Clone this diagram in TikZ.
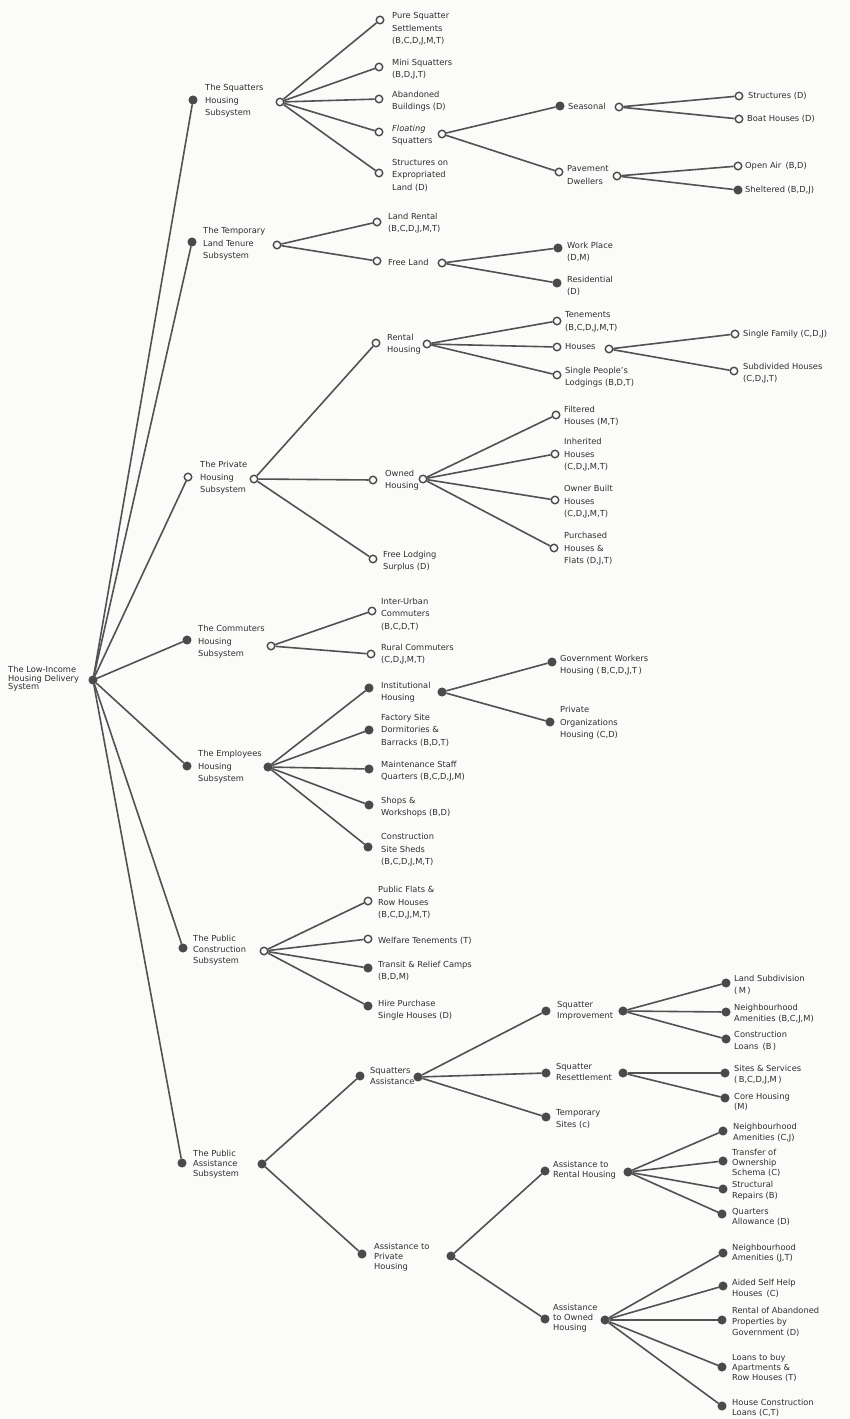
\documentclass[tikz,border=0pt]{standalone}
\usepackage{fontspec}
\setmainfont{DejaVu Sans}
\definecolor{linec}{HTML}{525252}
\definecolor{dotc}{HTML}{4A4A4A}
\definecolor{txtc}{HTML}{2E2E2E}
\definecolor{bgc}{HTML}{FBFBFA}
\tikzset{
  edge/.style={draw=linec, line width=1.6pt},
  od/.style={circle, draw=dotc, fill=bgc, line width=1.4pt, minimum size=7.5pt, inner sep=0pt},
  fd/.style={circle, draw=dotc, fill=dotc, line width=1pt, minimum size=8pt, inner sep=0pt},
  lbl/.style={anchor=west, align=left, inner sep=0pt, text=txtc, font=\fontsize{8.3}{12.5}\selectfont},
  lbm/.style={lbl, font=\fontsize{8.3}{11}\selectfont},
  lbt/.style={lbl, font=\fontsize{8.3}{10}\selectfont},
  lbr/.style={lbl, font=\fontsize{8.3}{8.5}\selectfont},
}
\begin{document}
\begin{tikzpicture}[x=1pt,y=-1pt]
\fill[bgc] (0,0) rectangle (849,1419);
\useasboundingbox (0,0) rectangle (849,1419);

% root
\node[fd] (root) at (93,680) {};
\node[lbr] (rootl) at (8,679) {The Low-Income\\Housing Delivery\\System};

% ---------- Squatters
\node[fd] (s1) at (193,100) {};
\node[lbl] (s1l) at (205,101) {The Squatters\\Housing\\Subsystem};
\node[od] (s1h) at (280,102) {};
\node[od] (pure) at (380,20) {};
\node[lbl] (purel) at (392,29) {Pure Squatter\\Settlements\\(B,C,D,J,M,T)};
\node[od] (mini) at (379,67) {};
\node[lbl] (minil) at (392,69) {Mini Squatters\\(B,D,J,T)};
\node[od] (aband) at (379,99) {};
\node[lbl] (abandl) at (392,101) {Abandoned\\Buildings (D)};
\node[od] (float) at (379,132) {};
\node[lbl] (floatl) at (392,135) {\textit{Floating}\\Squatters};
\node[od] (struct) at (379,173) {};
\node[lbl] (structl) at (392,175) {Structures on\\Expropriated\\Land (D)};
\node[od] (floath) at (442,134) {};
\node[fd] (seas) at (560,106) {};
\node[lbl] (seasl) at (568,106) {Seasonal};
\node[od] (seash) at (619,107) {};
\node[od] (structd) at (739,96) {};
\node[lbl] (structdl) at (748,96) {Structures (D)};
\node[od] (boat) at (739,119) {};
\node[lbl] (boatl) at (747,119) {Boat Houses (D)};
\node[od] (pave) at (559,172) {};
\node[lbl] (pavel) at (567,175) {Pavement\\Dwellers};
\node[od] (paveh) at (617,176) {};
\node[od] (open) at (738,166) {};
\node[lbl] (openl) at (745,166) {Open Air\enspace(B,D)};
\node[fd] (shelt) at (738,190) {};
\node[lbl] (sheltl) at (745,190) {Sheltered (B,D,J)};

% ---------- Temporary land tenure
\node[fd] (t1) at (192,242) {};
\node[lbl] (t1l) at (203,244) {The Temporary\\Land Tenure\\Subsystem};
\node[od] (t1h) at (277,245) {};
\node[od] (lrent) at (377,222) {};
\node[lbl] (lrentl) at (388,223) {Land Rental\\(B,C,D,J,M,T)};
\node[od] (free) at (377,261) {};
\node[lbl] (freel) at (388,262) {Free Land};
\node[od] (freeh) at (442,263) {};
\node[fd] (work) at (558,248) {};
\node[lbl] (workl) at (567,252) {Work Place\\(D,M)};
\node[fd] (resid) at (557,283) {};
\node[lbl] (residl) at (567,286) {Residential\\(D)};

% ---------- Private housing
\node[od] (p1) at (188,477) {};
\node[lbl] (p1l) at (200,478) {The Private\\Housing\\Subsystem};
\node[od] (p1h) at (254,479) {};
\node[od] (rent) at (376,343) {};
\node[lbl] (rentl) at (387,344) {Rental\\Housing};
\node[od] (renth) at (427,344) {};
\node[od] (ten) at (557,321) {};
\node[lbl] (tenl) at (565,322) {Tenements\\(B,C,D,J,M,T)};
\node[od] (houses) at (557,347) {};
\node[lbl] (housesl) at (565,347) {Houses};
\node[od] (housesh) at (609,349) {};
\node[od] (single) at (557,375) {};
\node[lbl] (singlel) at (565,377) {Single People's\\Lodgings (B,D,T)};
\node[od] (sfam) at (735,334) {};
\node[lbl] (sfaml) at (743,334) {Single Family (C,D,J)};
\node[od] (subd) at (734,371) {};
\node[lbl] (subdl) at (743,373) {Subdivided Houses\\(C,D,J,T)};
\node[od] (owned) at (373,480) {};
\node[lbl] (ownedl) at (385,480) {Owned\\Housing};
\node[od] (ownedh) at (423,479) {};
\node[od] (filt) at (556,415) {};
\node[lbl] (filtl) at (564,416) {Filtered\\Houses (M,T)};
\node[od] (inh) at (555,454) {};
\node[lbl] (inhl) at (564,455) {Inherited\\Houses\\(C,D,J,M,T)};
\node[od] (obuilt) at (555,500) {};
\node[lbl] (obuiltl) at (564,502) {Owner Built\\Houses\\(C,D,J,M,T)};
\node[od] (purch) at (554,548) {};
\node[lbl] (purchl) at (564,549) {Purchased\\Houses \&\\Flats (D,J,T)};
\node[od] (flodg) at (373,559) {};
\node[lbl] (flodgl) at (383,561) {Free Lodging\\Surplus (D)};

% ---------- Commuters
\node[fd] (c1) at (187,640) {};
\node[lbl] (c1l) at (198,642) {The Commuters\\Housing\\Subsystem};
\node[od] (c1h) at (271,646) {};
\node[od] (inter) at (372,611) {};
\node[lbl] (interl) at (381,614) {Inter-Urban\\Commuters\\(B,C,D,T)};
\node[od] (rural) at (371,654) {};
\node[lbl] (rurall) at (381,654) {Rural Commuters\\(C,D,J,M,T)};

% ---------- Employees
\node[fd] (e1) at (187,766) {};
\node[lbl] (e1l) at (198,767) {The Employees\\Housing\\Subsystem};
\node[fd] (e1h) at (268,767) {};
\node[fd] (inst) at (369,688) {};
\node[lbl] (instl) at (381,692) {Institutional\\Housing};
\node[fd] (insth) at (442,692) {};
\node[fd] (gov) at (552,662) {};
\node[lbl] (govl) at (560,665) {Government Workers\\Housing (\,B,C,D,J,T\,)};
\node[fd] (porg) at (550,722) {};
\node[lbl] (porgl) at (560,723) {Private\\Organizations\\Housing (C,D)};
\node[fd] (fact) at (369,730) {};
\node[lbl] (factl) at (381,730) {Factory Site\\Dormitories \&\\Barracks (B,D,T)};
\node[fd] (maint) at (369,769) {};
\node[lbl] (maintl) at (381,771) {Maintenance Staff\\Quarters (B,C,D,J,M)};
\node[fd] (shops) at (369,805) {};
\node[lbl] (shopsl) at (381,807) {Shops \&\\Workshops (B,D)};
\node[fd] (csheds) at (368,847) {};
\node[lbl] (cshedsl) at (381,850) {Construction\\Site Sheds\\(B,C,D,J,M,T)};

% ---------- Public construction
\node[fd] (pc1) at (183,948) {};
\node[lbm] (pc1l) at (193,950) {The Public\\Construction\\Subsystem};
\node[od] (pc1h) at (264,951) {};
\node[od] (pflats) at (368,901) {};
\node[lbl] (pflatsl) at (378,903) {Public Flats \&\\Row Houses\\(B,C,D,J,M,T)};
\node[od] (welf) at (368,939) {};
\node[lbl] (welfl) at (378,941) {Welfare Tenements (T)};
\node[fd] (trans) at (368,968) {};
\node[lbl] (transl) at (378,971) {Transit \& Relief Camps\\(B,D,M)};
\node[fd] (hire) at (368,1006) {};
\node[lbl] (hirel) at (378,1010) {Hire Purchase\\Single Houses (D)};

% ---------- Public assistance
\node[fd] (pa1) at (182,1163) {};
\node[lbt] (pa1l) at (193,1164) {The Public\\Assistance\\Subsystem};
\node[fd] (pa1h) at (262,1164) {};
\node[fd] (sqa) at (360,1076) {};
\node[lbm] (sqal) at (370,1076) {Squatters\\Assistance};
\node[fd] (sqah) at (418,1077) {};
\node[fd] (sqi) at (546,1011) {};
\node[lbm] (sqil) at (557,1011) {Squatter\\Improvement};
\node[fd] (sqih) at (623,1011) {};
\node[fd] (lsub) at (726,983) {};
\node[lbl] (lsubl) at (734,985) {Land Subdivision\\(\,M\,)};
\node[fd] (nbcjm) at (726,1012) {};
\node[lbm] (nbcjml) at (734,1014) {Neighbourhood\\Amenities (B,C,J,M)};
\node[fd] (cloans) at (726,1039) {};
\node[lbl] (cloansl) at (734,1041) {Construction\\Loans\enspace(B\,)};
\node[fd] (sqr) at (546,1073) {};
\node[lbm] (sqrl) at (556,1072) {Squatter\\Resettlement};
\node[fd] (sqrh) at (623,1073) {};
\node[fd] (sites) at (725,1073) {};
\node[lbm] (sitesl) at (734,1075) {Sites \& Services\\(\,B,C,D,J,M\,)};
\node[fd] (core) at (725,1098) {};
\node[lbt] (corel) at (734,1102) {Core Housing\\(M)};
\node[fd] (temps) at (546,1117) {};
\node[lbl] (tempsl) at (556,1119) {Temporary\\Sites (c)};
\node[fd] (apriv) at (362,1254) {};
\node[lbt] (aprivl) at (374,1257) {Assistance to\\Private\\Housing};
\node[fd] (aprivh) at (451,1256) {};
\node[fd] (arent) at (545,1171) {};
\node[lbt] (arentl) at (553,1170) {Assistance to\\Rental Housing};
\node[fd] (arenth) at (628,1172) {};
\node[fd] (ncj) at (723,1131) {};
\node[lbm] (ncjl) at (733,1133) {Neighbourhood\\Amenities (C,J)};
\node[fd] (transf) at (723,1161) {};
\node[lbt] (transfl) at (732,1163) {Transfer of\\Ownership\\Schema (C)};
\node[fd] (struc) at (723,1189) {};
\node[lbm] (strucl) at (732,1191) {Structural\\Repairs (B)};
\node[fd] (quart) at (722,1214) {};
\node[lbt] (quartl) at (732,1217) {Quarters\\Allowance (D)};
\node[fd] (aown) at (545,1319) {};
\node[lbt] (aownl) at (553,1318) {Assistance\\to Owned\\Housing};
\node[fd] (aownh) at (605,1320) {};
\node[fd] (njt) at (723,1253) {};
\node[lbt] (njtl) at (732,1253) {Neighbourhood\\Amenities (J,T)};
\node[fd] (aided) at (723,1286) {};
\node[lbm] (aidedl) at (732,1288) {Aided Self Help\\Houses\enspace(C)};
\node[fd] (rab) at (722,1320) {};
\node[lbm] (rabl) at (732,1322) {Rental of Abandoned\\Properties by\\Government (D)};
\node[fd] (loans) at (722,1367) {};
\node[lbt] (loansl) at (732,1368) {Loans to buy\\Apartments \&\\Row Houses (T)};
\node[fd] (hcl) at (722,1406) {};
\node[lbt] (hcll) at (732,1408) {House Construction\\Loans (C,T)};

% ---------- connectors
\foreach \a/\b in {root/s1, root/t1, root/p1, root/c1, root/e1, root/pc1, root/pa1,
  s1h/pure, s1h/mini, s1h/aband, s1h/float, s1h/struct,
  floath/seas, floath/pave, seash/structd, seash/boat, paveh/open, paveh/shelt,
  t1h/lrent, t1h/free, freeh/work, freeh/resid,
  p1h/rent, p1h/owned, p1h/flodg,
  renth/ten, renth/houses, renth/single, housesh/sfam, housesh/subd,
  ownedh/filt, ownedh/inh, ownedh/obuilt, ownedh/purch,
  c1h/inter, c1h/rural,
  e1h/inst, e1h/fact, e1h/maint, e1h/shops, e1h/csheds, insth/gov, insth/porg,
  pc1h/pflats, pc1h/welf, pc1h/trans, pc1h/hire,
  pa1h/sqa, pa1h/apriv,
  sqah/sqi, sqah/sqr, sqah/temps,
  sqih/lsub, sqih/nbcjm, sqih/cloans, sqrh/sites, sqrh/core,
  aprivh/arent, aprivh/aown,
  arenth/ncj, arenth/transf, arenth/struc, arenth/quart,
  aownh/njt, aownh/aided, aownh/rab, aownh/loans, aownh/hcl}
  \draw[edge] (\a) -- (\b);
\end{tikzpicture}
\end{document}
